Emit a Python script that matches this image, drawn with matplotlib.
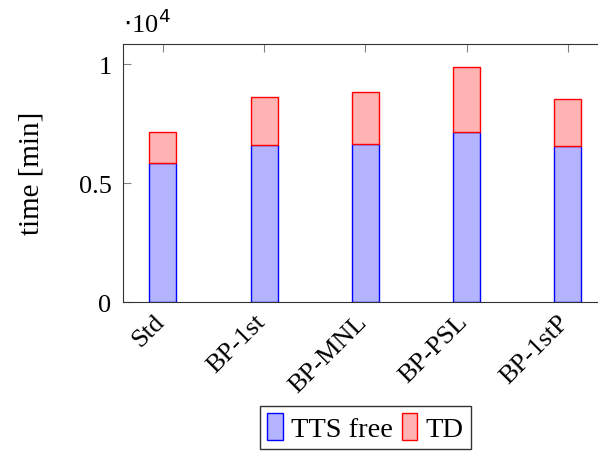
import numpy as np
import matplotlib
matplotlib.use("Agg")
import matplotlib.pyplot as plt
import matplotlib.transforms as mtransforms
from matplotlib.patches import Patch

plt.rcParams['font.family'] = ['Liberation Serif', 'DejaVu Serif']

methods = ["Std", "BP-1st", "BP-MNL", "BP-PSL", "BP-1stP"]
tts_free = [5850, 6610, 6650, 7130, 6555]
td = [1280, 1990, 2185, 2730, 1975]

fig = plt.figure(figsize=(5.98, 4.52), dpi=100)
ax = fig.add_axes([0.2052, 0.3296, 0.83, 0.5715])

x = np.arange(len(methods))
w = 0.267
ax.bar(x, tts_free, w, color="#b3b3ff", edgecolor="blue", linewidth=1)
ax.bar(x, td, w, bottom=tts_free, color="#ffb3b3", edgecolor="red", linewidth=1)

ax.set_xlim(-0.398, 4.507)
ax.set_ylim(0, 10853)
ax.set_yticks([0, 5000, 10000])
ax.set_yticklabels(["0", "0.5", "1"], fontsize=19)
ax.set_xticks(x)
ax.set_xticklabels(methods, fontsize=19, rotation=45, ha="right", va="top",
                   rotation_mode="anchor")
ax.tick_params(axis="both", direction="in", color="#808080", length=6,
               top=True, right=True, bottom=False)
ax.tick_params(axis="x", pad=6)
ax.tick_params(axis="y", pad=8)
shift = mtransforms.ScaledTranslation(-10 / 100, 0, fig.dpi_scale_trans)
for lab in ax.get_xticklabels():
    lab.set_transform(lab.get_transform() + shift)
for s in ax.spines.values():
    s.set_color("#333333")

ax.set_ylabel("time [min]", fontsize=21, labelpad=25)
fig.text(0.205, 0.915, r"$\cdot$10$^4$", fontsize=19, ha="left", va="bottom")

handles = [Patch(facecolor="#b3b3ff", edgecolor="blue"),
           Patch(facecolor="#ffb3b3", edgecolor="red")]
leg = fig.legend(handles, ["TTS free", "TD"], loc="upper center",
                 bbox_to_anchor=(0.611, 0.1), ncol=2, fontsize=20.5,
                 frameon=True, fancybox=False, edgecolor="black",
                 handlelength=0.55, handleheight=1.1, handletextpad=0.3,
                 columnspacing=0.3, borderpad=0.25, borderaxespad=0)
leg.get_frame().set_linewidth(1)

fig.savefig("out.png", dpi=100)
